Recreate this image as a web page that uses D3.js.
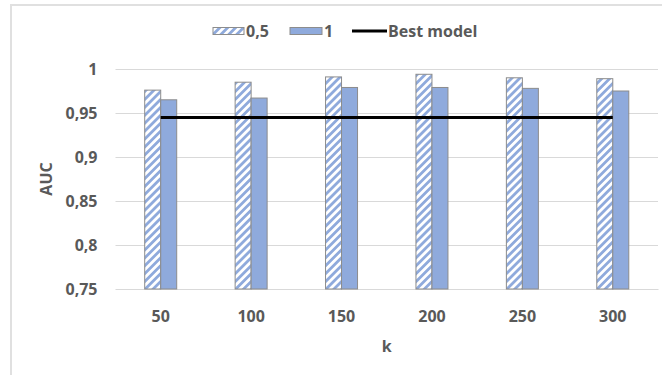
<!DOCTYPE html>
<html>
<head>
<meta charset="utf-8">
<script src="https://cdn.jsdelivr.net/npm/d3@7"></script>
<style>
  html, body { margin: 0; padding: 0; background: #ffffff; }
  svg { display: block; }
  text { font-family: "Open Sans", "Liberation Sans", sans-serif; font-weight: 700; fill: #595959; }
</style>
</head>
<body>
<svg id="chart" width="662" height="375"></svg>
<script>
// AUC by number of features k, for two threshold settings
const categories = ["50", "100", "150", "200", "250", "300"];
const seriesNames = ["0,5", "1"];
const values05 = [0.976, 0.985, 0.991, 0.994, 0.990, 0.989];
const values1 = [0.965, 0.967, 0.979, 0.979, 0.978, 0.975];
const bestModel = [0.945, 0.945, 0.945, 0.945, 0.945, 0.945];
const yTicks = [0.75, 0.8, 0.85, 0.9, 0.95, 1];
const yTickLabels = ["0,75", "0,8", "0,85", "0,9", "0,95", "1"];

const blue = "#8faadc";
const barStroke = "#8c8c8c";
const gridColor = "#d9d9d9";

const svg = d3.select("#chart");

// outer chart frame
svg.append("rect")
  .attr("x", 11).attr("y", 5)
  .attr("width", 700).attr("height", 420)
  .attr("fill", "none")
  .attr("stroke", "#e0e0e0")
  .attr("stroke-width", 2);

// diagonal hatch for the "0,5" series
const defs = svg.append("defs");
const pat = defs.append("pattern")
  .attr("id", "hatch")
  .attr("patternUnits", "userSpaceOnUse")
  .attr("width", 5.6).attr("height", 5.6)
  .attr("patternTransform", "rotate(45)");
pat.append("rect").attr("width", 5.6).attr("height", 5.6).attr("fill", "#ffffff");
pat.append("rect").attr("width", 2.8).attr("height", 5.6).attr("fill", blue);

const plot = { left: 115.5, right: 658, top: 69, bottom: 289 };

const x0 = d3.scaleBand().domain(categories).range([plot.left, plot.right]).padding(0);
const groupW = 32;
const x1 = d3.scaleBand().domain(seriesNames)
  .range([x0.bandwidth() / 2 - groupW / 2, x0.bandwidth() / 2 + groupW / 2]).padding(0);
const y = d3.scaleLinear().domain([0.75, 1]).range([plot.bottom, plot.top]);

// horizontal gridlines
const yAxis = d3.axisLeft(y)
  .tickValues(yTicks)
  .tickSize(-(plot.right - plot.left))
  .tickFormat((d, i) => yTickLabels[i]);
const gy = svg.append("g")
  .attr("transform", `translate(${plot.left},0)`)
  .call(yAxis);
gy.select(".domain").remove();
gy.selectAll(".tick line").attr("stroke", gridColor).attr("stroke-width", 1);
gy.selectAll(".tick text")
  .attr("x", -18)
  .attr("dy", "0.35em")
  .style("font-size", "16px")
  .style("font-family", "'Open Sans', sans-serif")
  .style("font-weight", 700)
  .attr("fill", "#595959");

// category axis
const xAxis = d3.axisBottom(x0).tickSize(0).tickPadding(0);
const gx = svg.append("g")
  .attr("transform", `translate(0,${plot.bottom})`)
  .call(xAxis);
gx.select(".domain").attr("stroke", gridColor);
gx.selectAll(".tick text")
  .attr("y", 27)
  .attr("dy", "0.35em")
  .style("font-size", "16px")
  .style("font-family", "'Open Sans', sans-serif")
  .style("font-weight", 700)
  .attr("fill", "#595959");

// bars
const rows = categories.map((c, i) => ({ cat: c, vals: [values05[i], values1[i]] }));
const groups = svg.append("g").selectAll("g")
  .data(rows).join("g")
  .attr("transform", d => `translate(${x0(d.cat)},0)`);
groups.selectAll("rect")
  .data(d => d.vals.map((v, j) => ({ s: seriesNames[j], v })))
  .join("rect")
  .attr("x", d => x1(d.s))
  .attr("width", x1.bandwidth())
  .attr("y", d => y(d.v))
  .attr("height", d => y(0.75) - y(d.v))
  .attr("fill", d => d.s === "0,5" ? "url(#hatch)" : blue)
  .attr("stroke", barStroke)
  .attr("stroke-width", 1);

// best model reference line
const line = d3.line()
  .x((d, i) => x0(categories[i]) + x0.bandwidth() / 2)
  .y(d => y(d));
svg.append("path")
  .datum(bestModel)
  .attr("d", line)
  .attr("fill", "none")
  .attr("stroke", "#000000")
  .attr("stroke-width", 3);

// axis titles
svg.append("text")
  .attr("x", (plot.left + plot.right) / 2)
  .attr("y", 346)
  .attr("dy", "0.35em")
  .attr("text-anchor", "middle")
  .style("font-size", "16px")
  .text("k");
svg.append("text")
  .attr("transform", `translate(46,${(plot.top + plot.bottom) / 2}) rotate(-90)`)
  .attr("dy", "0.35em")
  .attr("text-anchor", "middle")
  .style("font-size", "16px")
  .text("AUC");

// legend
const legend = svg.append("g");
const ly = 31;
legend.append("rect").attr("x", 213).attr("y", ly - 3.5).attr("width", 31).attr("height", 7)
  .attr("fill", "url(#hatch)").attr("stroke", barStroke).attr("stroke-width", 1);
legend.append("text").attr("x", 246).attr("y", ly).attr("dy", "0.35em")
  .style("font-size", "16px").text(seriesNames[0]);
legend.append("rect").attr("x", 290).attr("y", ly - 3.5).attr("width", 32).attr("height", 7)
  .attr("fill", blue).attr("stroke", barStroke).attr("stroke-width", 1);
legend.append("text").attr("x", 324).attr("y", ly).attr("dy", "0.35em")
  .style("font-size", "16px").text(seriesNames[1]);
legend.append("line").attr("x1", 352).attr("x2", 387).attr("y1", ly).attr("y2", ly)
  .attr("stroke", "#000000").attr("stroke-width", 3);
legend.append("text").attr("x", 388).attr("y", ly).attr("dy", "0.35em")
  .style("font-size", "16px").text("Best model");
</script>
</body>
</html>
